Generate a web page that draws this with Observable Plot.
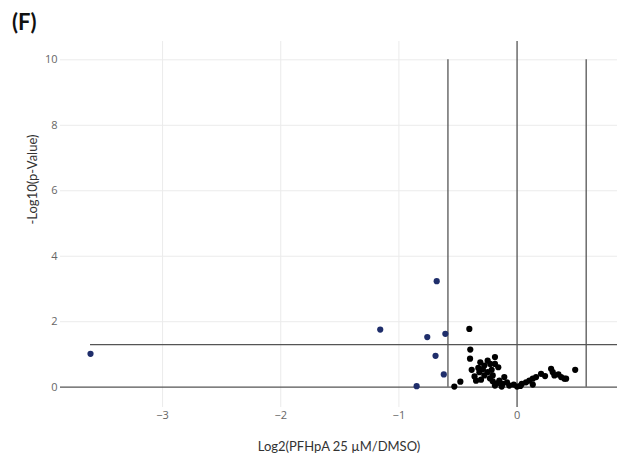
<!DOCTYPE html>
<html>
<head>
<meta charset="utf-8">
<script src="https://cdn.jsdelivr.net/npm/d3@7"></script>
<script src="https://cdn.jsdelivr.net/npm/@observablehq/plot@0.6"></script>
<style>
  body { margin: 0; background: #fff; }
  #wrap { position: relative; width: 626px; height: 466px; }
  #panel { position: absolute; left: 12px; top: 8px; font-family: Lato, "Open Sans", sans-serif; font-weight: bold; font-size: 22px; color: #111; }
</style>
</head>
<body>
<div id="wrap"><div id="panel">(F)</div></div>
<script>
// Points beyond the negative fold-change threshold (blue)
const blueX = [-0.68, -1.158, -0.76, -0.607, -3.61, -0.69, -0.62, -0.85];
const blueY = [3.24, 1.76, 1.53, 1.63, 1.02, 0.96, 0.39, 0.03];

// Remaining points (black)
const blackX = [-0.404, -0.396, -0.398, -0.384, -0.531, -0.480, -0.311, -0.277, -0.249, -0.187,
  -0.187, -0.227, -0.159, -0.328, -0.319, -0.347, -0.305, -0.277, -0.249, -0.215,
  -0.206, -0.206, -0.187, -0.150, -0.108, -0.122, -0.085, -0.066, -0.028, 0.0,
  0.028, 0.040, 0.076, 0.104, 0.133, 0.133, 0.161, 0.203, 0.237, 0.288,
  0.302, 0.316, 0.350, 0.373, 0.401, 0.415, 0.492, -0.29, -0.23, -0.17, -0.13, -0.36];
const blackY = [1.78, 1.15, 0.87, 0.53, 0.02, 0.17, 0.76, 0.66, 0.81, 0.92,
  0.71, 0.71, 0.61, 0.59, 0.46, 0.20, 0.23, 0.36, 0.46, 0.53,
  0.36, 0.18, 0.05, 0.20, 0.31, 0.10, 0.15, 0.05, 0.08, 0.02,
  0.04, 0.10, 0.15, 0.20, 0.08, 0.26, 0.31, 0.41, 0.34, 0.56,
  0.46, 0.36, 0.39, 0.31, 0.26, 0.26, 0.53, 0.55, 0.27, 0.12, 0.02, 0.33];

const xTicks = [-3, -2, -1, 0];
const yTicks = [0, 2, 4, 6, 8, 10];
const foldThreshold = 0.585;   // log2(1.5)
const pThreshold = 1.301;      // -log10(0.05)
const xLabel = "Log2(PFHpA 25 µM/DMSO)";
const yLabel = "-Log10(p-Value)";

const blue = blueX.map((x, i) => ({x, y: blueY[i]}));
const black = blackX.map((x, i) => ({x, y: blackY[i]}));

const fmt = d => d < 0 ? "\u2212" + (-d) : String(d);

const chart = Plot.plot({
  width: 626,
  height: 466,
  marginTop: 41,
  marginBottom: 59,
  marginLeft: 60,
  marginRight: 9,
  style: {fontFamily: "'Open Sans', sans-serif", fontSize: "11px", background: "#fff"},
  x: {domain: [-3.864, 0.850]},
  y: {domain: [-0.62, 10.56]},
  marks: [
    Plot.gridX(xTicks.filter(d => d !== 0), {stroke: "#ebebeb", strokeOpacity: 1, strokeWidth: 1}),
    Plot.gridY(yTicks.filter(d => d !== 0), {stroke: "#ebebeb", strokeOpacity: 1, strokeWidth: 1}),
    Plot.axisX(xTicks, {tickSize: 0, tickPadding: 4, tickFormat: fmt, fill: "#666", label: null, fontSize: 11}),
    Plot.axisY(yTicks, {tickSize: 0, tickPadding: 3, tickFormat: fmt, fill: "#666", label: null, fontSize: 11}),
    Plot.ruleY([0], {stroke: "#555", strokeWidth: 1.3}),
    Plot.ruleX([0], {stroke: "#555", strokeWidth: 1.3}),
    Plot.ruleX([-foldThreshold, foldThreshold], {y1: 0, y2: 10, stroke: "#555", strokeWidth: 1.3}),
    Plot.ruleY([pThreshold], {x1: -3.61, x2: 0.850, stroke: "#555", strokeWidth: 1.3}),
    Plot.dot(blue, {x: "x", y: "y", r: 3.1, fill: "#1f2e6b", stroke: "none"}),
    Plot.dot(black, {x: "x", y: "y", r: 3.1, fill: "#000", stroke: "none"}),
    Plot.text([xLabel], {frameAnchor: "bottom", dy: 43, text: d => d, fontFamily: "Lato, 'Open Sans', sans-serif", fontSize: 13, fill: "#333"}),
    Plot.text([yLabel], {frameAnchor: "left", dx: -28, rotate: -90, text: d => d, fontFamily: "Lato, 'Open Sans', sans-serif", fontSize: 13, fill: "#333"})
  ]
});
document.getElementById("wrap").appendChild(chart);
chart.style.position = "absolute";
chart.style.left = "0";
chart.style.top = "0";
document.getElementById("wrap").appendChild(document.getElementById("panel"));
</script>
</body>
</html>
